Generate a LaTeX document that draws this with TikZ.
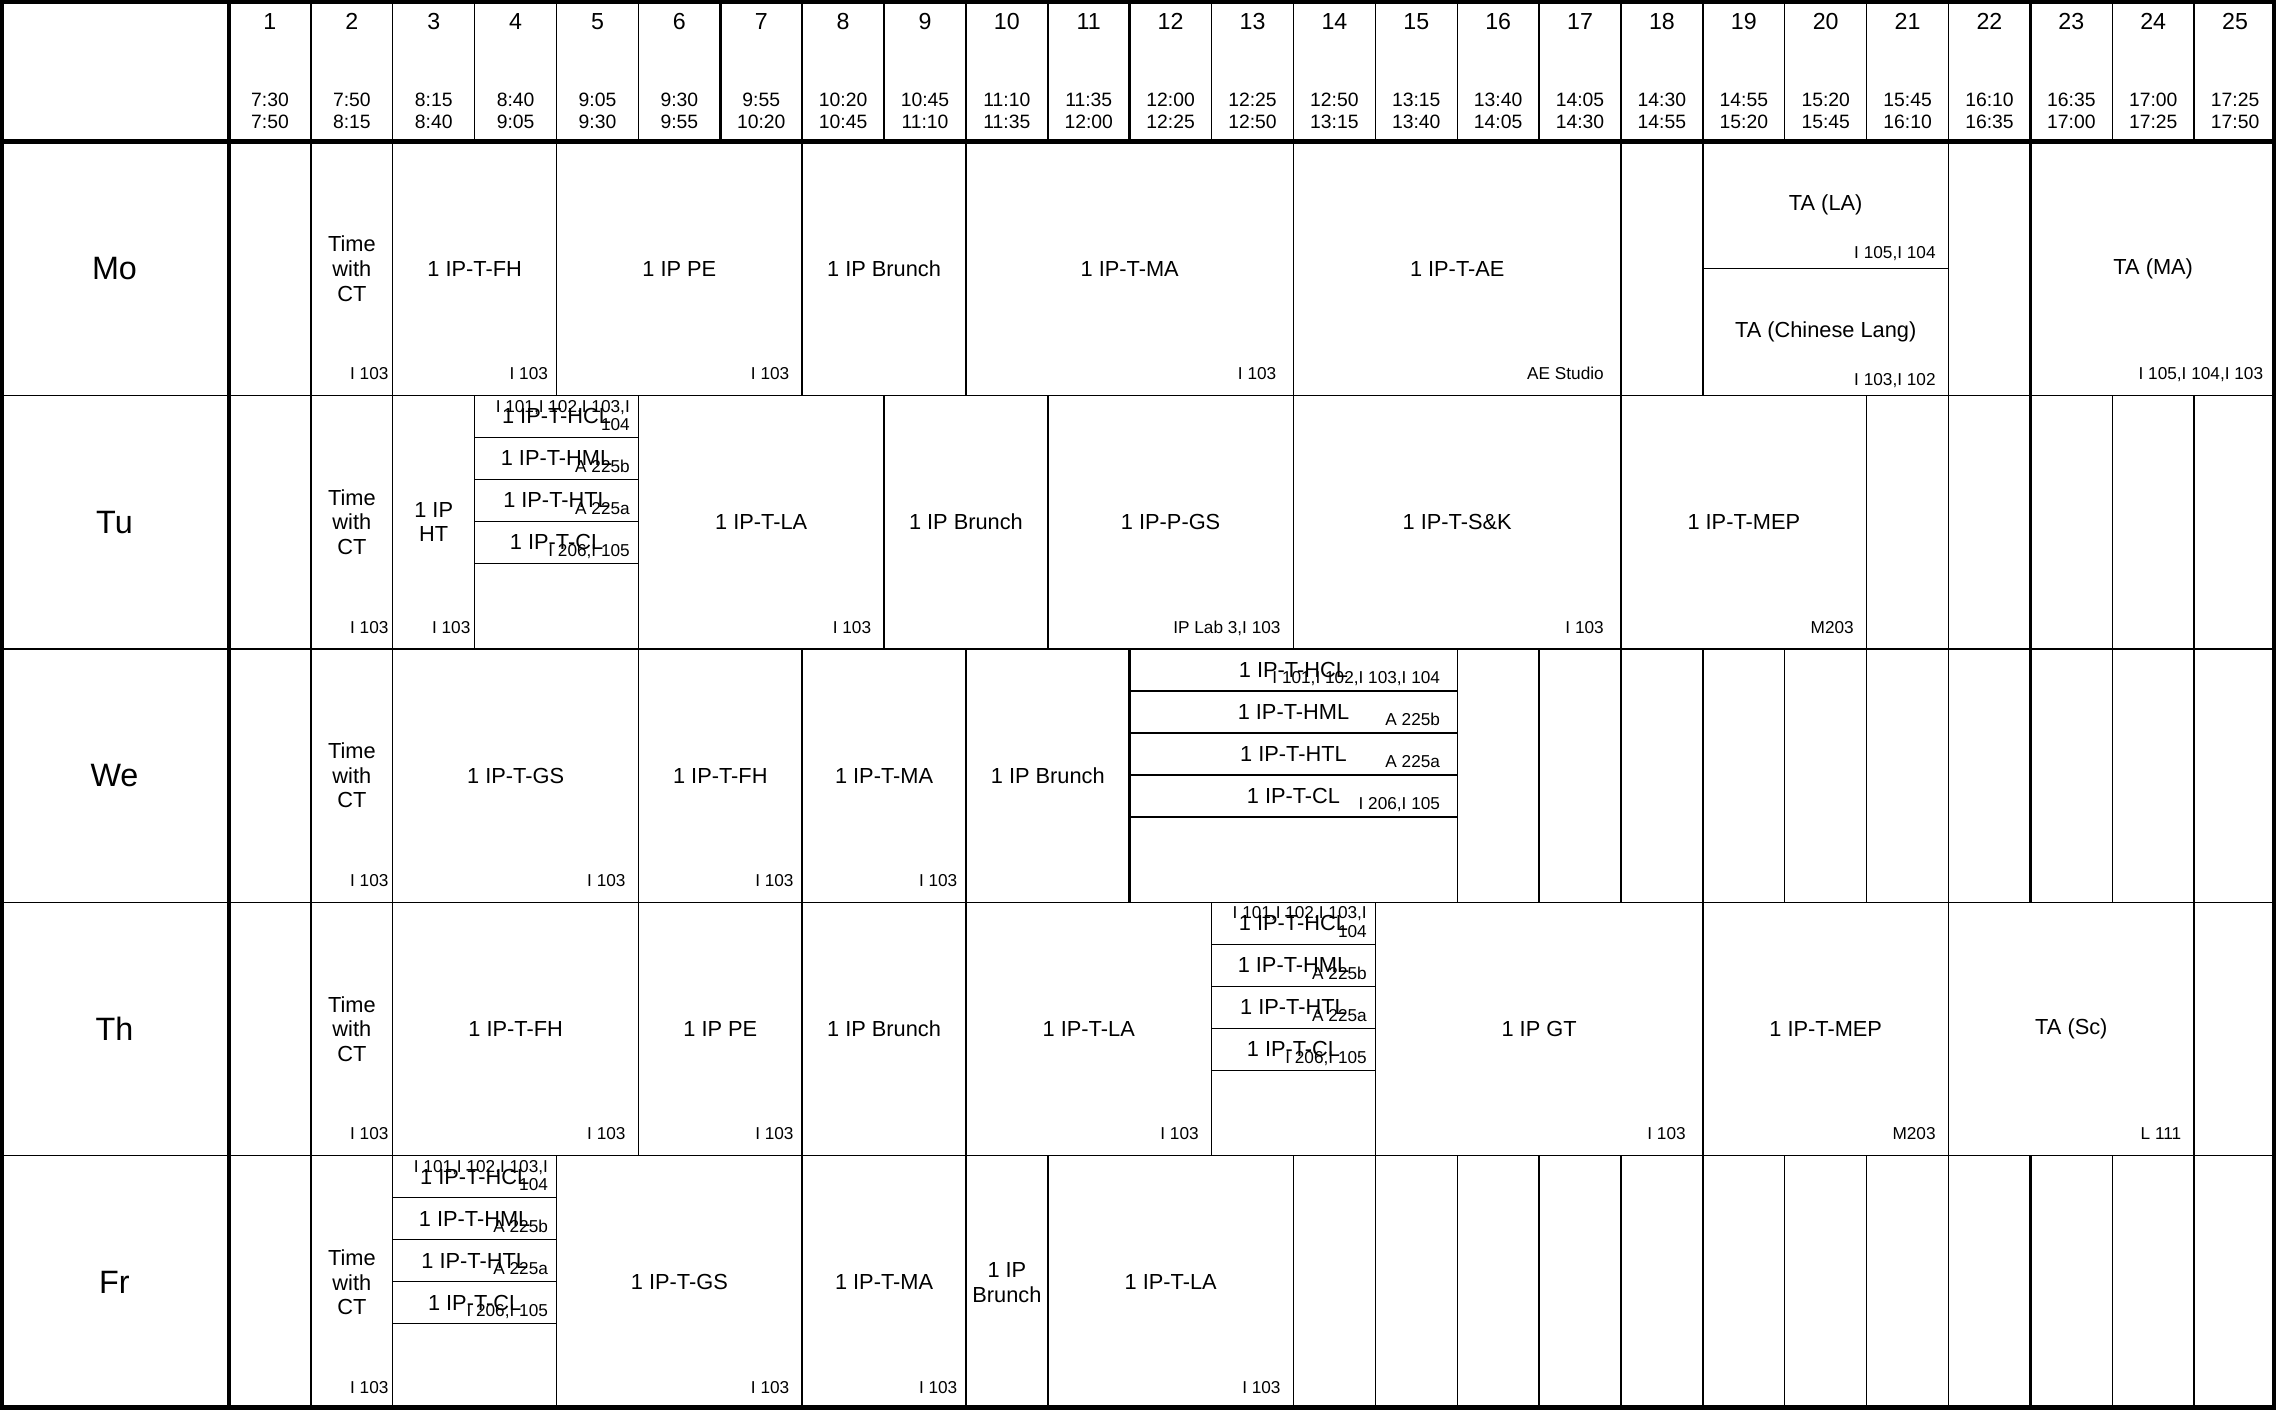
\documentclass[tikz,border=0pt]{standalone}
\usepackage{fontspec}
\setmainfont{Liberation Sans}

\newcommand{\colW}{0.8188}
\newcommand{\rowH}{2.534}
\newcommand{\headH}{1.42}
\newcommand{\leftW}{2.29}

% one lesson: name, day row, first period, number of periods, subject, room
\newcommand{\lesson}[6]{%
  \node[cell, minimum width={#4*\colW*1cm}] (#1) at ({\leftW+(#3-1)*\colW}, {-\headH-(#2-1)*\rowH}) {#5};
  \node[room] (#1-r) at ([xshift={-#4*0.043cm}, yshift=0.157cm]#1.south east) {#6};}

% the four parallel language groups in one block
\newcommand{\stackcell}[5]{%
  \node[cell, minimum width={#4*\colW*1cm}] (#1) at ({\leftW+(#3-1)*\colW}, {-\headH-(#2-1)*\rowH}) {};
  \foreach \k/\subj/\rmn in {1/HCL/{#5}, 2/HML/{A 225b}, 3/HTL/{A 225a}, 4/CL/{I 206,I 105}}{
    \node[cell, minimum width={#4*\colW*1cm}, minimum height=0.42cm] (#1-\k) at ([yshift={-(\k-1)*0.42cm}]#1.north west) {1 IP-T-\subj};
    \node[room, yshift=-0.087cm] (#1-\k-r) at ([xshift={-#4*0.043cm}, yshift=0.157cm]#1-\k.south east) {\rmn};
  }}

\begin{document}
\begin{tikzpicture}[
    cell/.style={rectangle,draw,line width=0.014cm,inner sep=0pt,outer sep=0pt,anchor=north west,
      minimum height=\rowH*1cm,align=center,font={\fontsize{6.2}{7}\selectfont}},
    room/.style={inner sep=0pt,outer sep=0pt,anchor=south east,align=right,text depth=0pt,
      font={\fontsize{4.9}{5.2}\selectfont}},
    daycell/.style={cell,minimum width=\leftW*1cm,font={\fontsize{9.2}{11}\selectfont}},
    num/.style={inner sep=0pt,anchor=base,font={\fontsize{6.6}{8}\selectfont}},
    times/.style={inner sep=0pt,anchor=south,align=center,text depth=0pt,font={\fontsize{5.5}{6.26}\selectfont}},
    midrule/.style={line width=0.027cm},
    boldrule/.style={line width=0.042cm},
    frame/.style={line width=0.08cm}]

    \fill[white,use as bounding box] (0,0) rectangle (22.76,-14.09);

    % header
    \node[cell,minimum width=\leftW*1cm,minimum height=\headH*1cm] (corner) at (0,0) {};
    \foreach \c/\ta/\tb in {1/7:30/7:50, 2/7:50/8:15, 3/8:15/8:40, 4/8:40/9:05, 5/9:05/9:30,
        6/9:30/9:55, 7/9:55/10:20, 8/10:20/10:45, 9/10:45/11:10, 10/11:10/11:35,
        11/11:35/12:00, 12/12:00/12:25, 13/12:25/12:50, 14/12:50/13:15, 15/13:15/13:40,
        16/13:40/14:05, 17/14:05/14:30, 18/14:30/14:55, 19/14:55/15:20, 20/15:20/15:45,
        21/15:45/16:10, 22/16:10/16:35, 23/16:35/17:00, 24/17:00/17:25, 25/17:25/17:50}{
      \node[cell,minimum width=\colW*1cm,minimum height=\headH*1cm] (h\c) at ({\leftW+(\c-1)*\colW},0) {};
      \node[num] (n\c) at ([yshift=-0.293cm]h\c.north) {\c};
      \node[times] (t\c) at ([yshift=0.127cm]h\c.south) {\ta\\\tb};
    }

    % days
    \foreach \r/\d/\dn in {1/mo/Mo, 2/tu/Tu, 3/we/We, 4/th/Th, 5/fr/Fr}
      \node[daycell] (\d) at (0,{-\headH-(\r-1)*\rowH}) {\dn};

    % free periods
    \foreach \r/\d/\c in {1/mo/1, 1/mo/18, 1/mo/22,
        2/tu/1, 2/tu/21, 2/tu/22, 2/tu/23, 2/tu/24, 2/tu/25,
        3/we/1, 3/we/16, 3/we/17, 3/we/18, 3/we/19, 3/we/20, 3/we/21, 3/we/22, 3/we/23, 3/we/24, 3/we/25,
        4/th/1, 4/th/25,
        5/fr/1, 5/fr/14, 5/fr/15, 5/fr/16, 5/fr/17, 5/fr/18, 5/fr/19, 5/fr/20, 5/fr/21, 5/fr/22, 5/fr/23, 5/fr/24, 5/fr/25}
      \node[cell,minimum width=\colW*1cm] (\d\c) at ({\leftW+(\c-1)*\colW},{-\headH-(\r-1)*\rowH}) {};

    % Mo
    \lesson{mo2}{1}{2}{1}{Time\\with\\CT}{I 103}
    \lesson{mo3}{1}{3}{2}{1 IP-T-FH}{I 103}
    \lesson{mo5}{1}{5}{3}{1 IP PE}{I 103}
    \lesson{mo8}{1}{8}{2}{1 IP Brunch}{}
    \lesson{mo10}{1}{10}{4}{1 IP-T-MA}{I 103}
    \lesson{mo14}{1}{14}{4}{1 IP-T-AE}{AE Studio}
    \node[cell,minimum width=3*\colW*1cm,minimum height=\rowH/2*1cm] (mo19) at ({\leftW+18*\colW},{-\headH}) {TA (LA)};
    \node[room] (mo19-r) at ([xshift=-0.129cm,yshift=0.10cm]mo19.south east) {I 105,I 104};
    \node[cell,minimum width=3*\colW*1cm,minimum height=\rowH/2*1cm] (mo19b) at (mo19.south west) {TA (Chinese Lang)};
    \node[room] (mo19b-r) at ([xshift=-0.129cm,yshift=0.10cm]mo19b.south east) {I 103,I 102};
    \lesson{mo23}{1}{23}{3}{TA (MA)}{I 105,I 104,I 103}

    % Tu
    \lesson{tu2}{2}{2}{1}{Time\\with\\CT}{I 103}
    \lesson{tu3}{2}{3}{1}{1 IP\\HT}{I 103}
    \stackcell{tu4}{2}{4}{2}{I 101,I 102,I 103,I\\104}
    \lesson{tu6}{2}{6}{3}{1 IP-T-LA}{I 103}
    \lesson{tu9}{2}{9}{2}{1 IP Brunch}{}
    \lesson{tu11}{2}{11}{3}{1 IP-P-GS}{IP Lab 3,I 103}
    \lesson{tu14}{2}{14}{4}{1 IP-T-S\&K}{I 103}
    \lesson{tu18}{2}{18}{3}{1 IP-T-MEP}{M203}

    % We
    \lesson{we2}{3}{2}{1}{Time\\with\\CT}{I 103}
    \lesson{we3}{3}{3}{3}{1 IP-T-GS}{I 103}
    \lesson{we6}{3}{6}{2}{1 IP-T-FH}{I 103}
    \lesson{we8}{3}{8}{2}{1 IP-T-MA}{I 103}
    \lesson{we10}{3}{10}{2}{1 IP Brunch}{}
    \stackcell{we12}{3}{12}{4}{I 101,I 102,I 103,I 104}

    % Th
    \lesson{th2}{4}{2}{1}{Time\\with\\CT}{I 103}
    \lesson{th3}{4}{3}{3}{1 IP-T-FH}{I 103}
    \lesson{th6}{4}{6}{2}{1 IP PE}{I 103}
    \lesson{th8}{4}{8}{2}{1 IP Brunch}{}
    \lesson{th10}{4}{10}{3}{1 IP-T-LA}{I 103}
    \stackcell{th13}{4}{13}{2}{I 101,I 102,I 103,I\\104}
    \lesson{th15}{4}{15}{4}{1 IP GT}{I 103}
    \lesson{th19}{4}{19}{3}{1 IP-T-MEP}{M203}
    \lesson{th22}{4}{22}{3}{TA (Sc)}{L 111}

    % Fr
    \lesson{fr2}{5}{2}{1}{Time\\with\\CT}{I 103}
    \stackcell{fr3}{5}{3}{2}{I 101,I 102,I 103,I\\104}
    \lesson{fr5}{5}{5}{3}{1 IP-T-GS}{I 103}
    \lesson{fr8}{5}{8}{2}{1 IP-T-MA}{I 103}
    \lesson{fr10}{5}{10}{1}{1 IP\\Brunch}{}
    \lesson{fr11}{5}{11}{3}{1 IP-T-LA}{I 103}

    % breaks
    \foreach \n in {h7,h12,h17,h18,h23,mo18,mo23,tu18,tu23,we12,we17,we18,we23,fr17,fr18,fr23}
      \draw[midrule] (\n.north west) -- (\n.south west);

    \draw[boldrule] (corner.north east) -- (fr.south east);
    \draw[boldrule,line width=0.05cm] (corner.south west) -- (h25.south east);
    \draw[frame] (corner.north west) rectangle (fr25.south east);

\end{tikzpicture}
\end{document}
